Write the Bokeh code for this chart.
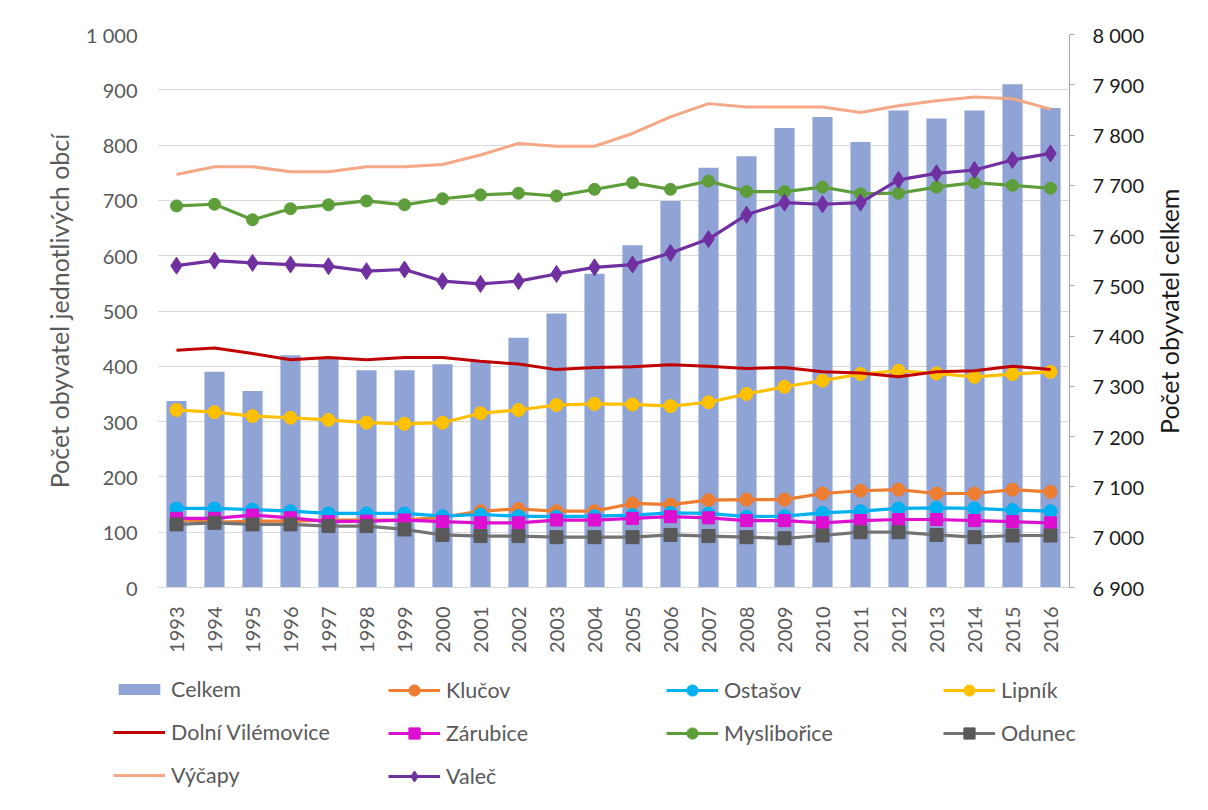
import math
from bokeh.plotting import figure
from bokeh.models import (Range1d, LinearAxis, FactorRange, Legend, LegendItem,
                          FixedTicker, CustomJSTickFormatter, ColumnDataSource)
from bokeh.embed import file_html
from bokeh.resources import INLINE

years = ["1993", "1994", "1995", "1996", "1997", "1998", "1999", "2000",
         "2001", "2002", "2003", "2004", "2005", "2006", "2007", "2008",
         "2009", "2010", "2011", "2012", "2013", "2014", "2015", "2016"]

celkem = [7271, 7329, 7291, 7362, 7358, 7332, 7332, 7344, 7351, 7397, 7445, 7524,
          7581, 7669, 7735, 7758, 7814, 7836, 7786, 7849, 7833, 7849, 7901, 7854]
klucov = [123, 118, 120, 120, 122, 122, 122, 127, 138, 142, 138, 138,
          152, 150, 158, 159, 159, 170, 175, 177, 170, 170, 177, 173]
ostasov = [143, 143, 141, 138, 134, 134, 134, 129, 132, 129, 128, 129,
           131, 135, 134, 128, 129, 135, 138, 143, 144, 143, 140, 138]
lipnik = [321, 317, 310, 307, 303, 298, 296, 298, 315, 321, 330, 332,
          331, 328, 335, 350, 363, 374, 386, 392, 387, 381, 386, 390]
dolni_vilemovice = [429, 433, 423, 412, 416, 412, 416, 416, 409, 404, 394, 398,
                    399, 403, 400, 396, 398, 390, 388, 381, 390, 392, 400, 394]
zarubice = [125, 125, 131, 126, 119, 120, 122, 119, 117, 117, 122, 122,
            125, 128, 126, 121, 121, 117, 121, 123, 123, 121, 119, 117]
myslibor = [690, 693, 665, 685, 692, 699, 692, 703, 710, 713, 708, 720,
            732, 720, 735, 716, 716, 724, 712, 713, 724, 732, 727, 722]
odunec = [114, 117, 114, 114, 111, 111, 105, 95, 93, 93, 91, 91,
          91, 95, 93, 91, 89, 94, 100, 100, 95, 91, 94, 94]
vycapy = [747, 761, 761, 752, 752, 761, 761, 765, 782, 803, 798, 798,
          821, 851, 875, 869, 869, 869, 859, 871, 880, 887, 884, 865]
valec = [582, 591, 587, 584, 581, 572, 575, 554, 549, 554, 567, 579,
         584, 605, 630, 674, 696, 693, 696, 737, 749, 755, 773, 785]

left_ticks = [0, 100, 200, 300, 400, 500, 600, 700, 800, 900, 1000]
right_ticks = [6900, 7000, 7100, 7200, 7300, 7400, 7500, 7600, 7700, 7800, 7900, 8000]

FONT = "Lato"
GRAY = "#595959"
BAR = "#8FA3D4"
W = 1205

src = ColumnDataSource(dict(year=years, celkem=celkem, klucov=klucov, ostasov=ostasov,
                            lipnik=lipnik, dv=dolni_vilemovice, zarubice=zarubice,
                            myslibor=myslibor, odunec=odunec, vycapy=vycapy, valec=valec))

xr = FactorRange(*years, range_padding=0)

p = figure(width=W, height=664, x_range=xr,
           y_range=Range1d(0, 1000), output_backend="svg", toolbar_location=None,
           min_border_left=157, min_border_right=W + 2 - 1071, min_border_top=34,
           min_border_bottom=77)
p.outline_line_color = None
p.extra_y_ranges = {"right": Range1d(6900, 8000)}
p.styles = {"clip-path": "inset(0px 0px 6px 0px)"}

fmt = CustomJSTickFormatter(code="""
var s = Math.round(tick).toString();
return s.replace(/\\B(?=(\\d{3})+(?!\\d))/g, " ");
""")

# left axis
ya = p.yaxis[0]
ya.ticker = FixedTicker(ticks=left_ticks)
ya.formatter = fmt
ya.axis_line_color = None
ya.major_tick_line_color = None
ya.minor_tick_line_color = None
ya.major_label_text_font = FONT
ya.major_label_text_font_size = "20px"
ya.major_label_text_color = GRAY
ya.major_label_standoff = 14
ya.axis_label = "Počet obyvatel jednotlivých obcí"
ya.axis_label_text_font = FONT
ya.axis_label_text_font_size = "25px"
ya.axis_label_text_font_style = "normal"
ya.axis_label_text_color = GRAY
ya.axis_label_standoff = 9

# right axis
ra = LinearAxis(y_range_name="right", ticker=FixedTicker(ticks=right_ticks), formatter=fmt)
ra.axis_line_color = "#a6a6a6"
ra.major_tick_line_color = "#a6a6a6"
ra.major_tick_in = 0
ra.major_tick_out = 5
ra.minor_tick_line_color = None
ra.major_label_text_font = FONT
ra.major_label_text_font_size = "20px"
ra.major_label_text_color = "#1a1a1a"
ra.major_label_standoff = 18
RIGHT_LABEL = "Počet obyvatel celkem"
ra.axis_label_orientation = math.pi / 2
label_text = RIGHT_LABEL
try:
    ra.axis_label_align = "start"
    label_text = "\u00a0" * 24 + RIGHT_LABEL
except Exception:
    pass
ra.axis_label = label_text
ra.axis_label_text_font = FONT
ra.axis_label_text_font_size = "25px"
ra.axis_label_text_font_style = "normal"
ra.axis_label_text_color = "#1a1a1a"
ra.axis_label_standoff = 22
p.add_layout(ra, "right")

# x axis
xa = p.xaxis[0]
xa.axis_line_color = "#d9d9d9"
xa.major_tick_line_color = None
xa.minor_tick_line_color = None
xa.major_label_orientation = math.pi / 2
xa.major_label_text_font = FONT
xa.major_label_text_font_size = "20px"
xa.major_label_text_color = GRAY
xa.major_label_standoff = 13

p.xgrid.grid_line_color = None
p.ygrid.grid_line_color = "#d9d9d9"
p.ygrid.ticker = FixedTicker(ticks=left_ticks)

# legend strip: same data, y range chosen so that every mark lies above it (off canvas)
q = figure(width=W, height=136, x_range=xr, y_range=Range1d(-100000, -50000),
           output_backend="svg", toolbar_location=None, x_axis_type=None,
           y_axis_type=None, min_border=0)
q.outline_line_color = None
q.grid.grid_line_color = None
q.styles = {"clip-path": "inset(6px 0px 0px 0px)"}

styles = {
    "klucov": dict(color="#ED7D31", lw=3.2, marker="circle", msize=13, mcolor=None),
    "ostasov": dict(color="#00B0F0", lw=3.2, marker="circle", msize=13, mcolor=None),
    "lipnik": dict(color="#FFC000", lw=3.2, marker="circle", msize=13, mcolor=None),
    "dv": dict(color="#C00000", lw=3, marker=None, msize=0, mcolor=None),
    "zarubice": dict(color="#DD0FD0", lw=3.2, marker="square", msize=12, mcolor=None),
    "myslibor": dict(color="#5E9E3A", lw=3.2, marker="circle", msize=12, mcolor=None),
    "odunec": dict(color="#737373", lw=3.2, marker="square", msize=13, mcolor="#595959"),
    "vycapy": dict(color="#F4A886", lw=3, marker=None, msize=0, mcolor=None),
    "valec": dict(color="#7030A0", lw=3.2, marker="diamond", msize=17, mcolor=None),
}

def series(fig, col):
    s = styles[col]
    rs = [fig.line(x="year", y=col, source=src, line_color=s["color"], line_width=s["lw"])]
    if s["marker"]:
        mc = s["mcolor"] or s["color"]
        rs.append(fig.scatter(x="year", y=col, source=src, marker=s["marker"], size=s["msize"],
                              fill_color=mc, line_color=mc))
    return rs

p.vbar(x="year", top="celkem", bottom=6900, width=0.53, source=src,
       y_range_name="right", fill_color=BAR, line_color=None)
order = ["klucov", "ostasov", "lipnik", "dv", "zarubice", "myslibor", "odunec", "vycapy", "valec"]
for col in order:
    series(p, col)

sw = {col: series(q, col) for col in order}
sw_bar = q.vbar(x="year", top="celkem", bottom=6900, width=0.53, source=src,
                fill_color=BAR, line_color=None)

def mk_legend(items, loc, gh, lh, sp):
    lg = Legend(items=[LegendItem(label=l, renderers=r) for l, r in items],
                location=loc, orientation="vertical")
    lg.border_line_color = None
    lg.background_fill_alpha = 0
    lg.padding = 0
    lg.margin = 0
    lg.spacing = sp
    lg.glyph_width = 52
    lg.glyph_height = gh
    lg.label_height = lh
    lg.label_standoff = 6
    lg.label_text_font = FONT
    lg.label_text_font_size = "21.5px"
    lg.label_text_color = GRAY
    lg.label_text_baseline = "middle"
    q.add_layout(lg, "center")

mk_legend([("Celkem", [sw_bar]), ("Dolní Vilémovice", sw["dv"]), ("Výčapy", sw["vycapy"])],
          (113, 12), 14, 26, 17)
mk_legend([("Klučov", sw["klucov"]), ("Zárubice", sw["zarubice"]), ("Valeč", sw["valec"])],
          (388, 10), 28, 28, 15)
mk_legend([("Ostašov", sw["ostasov"]), ("Myslibořice", sw["myslibor"])],
          (666, 53), 28, 28, 15)
mk_legend([("Lipník", sw["lipnik"]), ("Odunec", sw["odunec"])],
          (943, 53), 28, 28, 15)

open("out.html", "w").write(file_html([p, q], INLINE))
